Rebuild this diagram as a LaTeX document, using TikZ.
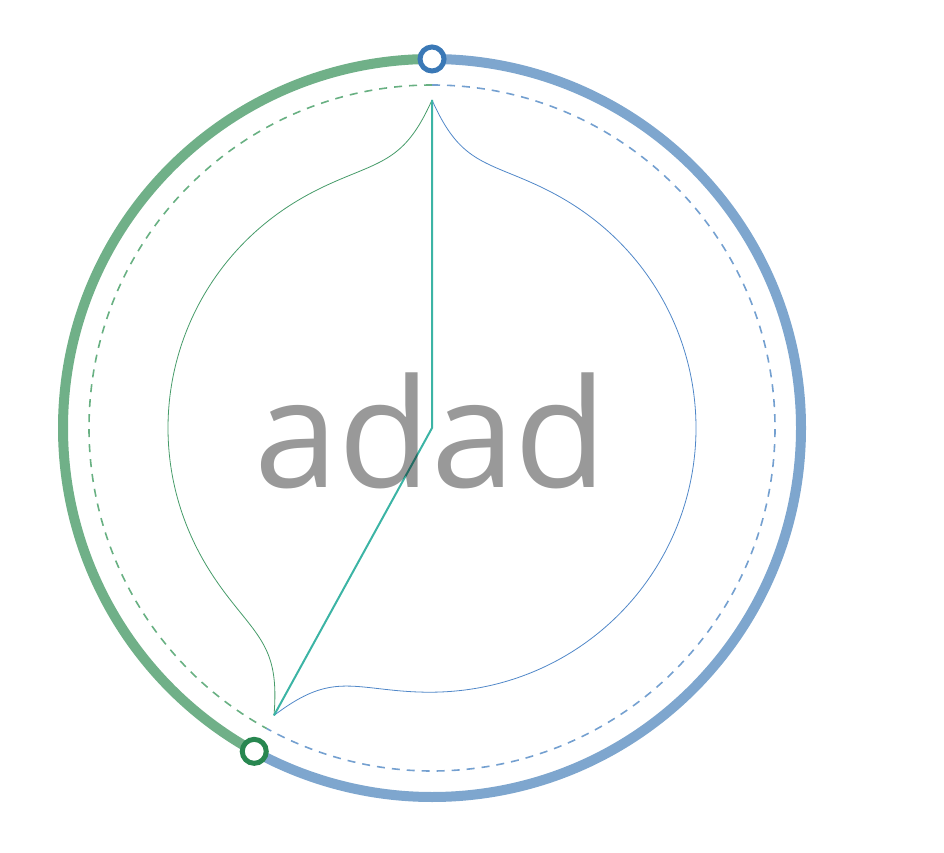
\documentclass[tikz,border=0pt]{standalone}
\usepackage{fontspec}
\setmainfont{Open Sans}
\definecolor{arcgreen}{RGB}{112,176,136}
\definecolor{arcblue}{RGB}{126,166,206}
\definecolor{dashgreen}{RGB}{104,176,130}
\definecolor{dashblue}{RGB}{116,160,208}
\definecolor{curvegreen}{RGB}{70,155,105}
\definecolor{curveblue}{RGB}{80,135,200}
\definecolor{markblue}{RGB}{58,120,182}
\definecolor{markgreen}{RGB}{40,135,80}
\definecolor{tealline}{RGB}{60,180,165}
\tikzset{
  outerarc/.style={line width=10pt, line cap=butt},
  dashring/.style={line width=1.6pt, dash pattern=on 8pt off 7pt},
  ribbon/.style={line width=0.8pt, smooth},
  marker/.style={circle, draw, fill=white, line width=5pt, minimum size=24pt, inner sep=0pt},
  spoke/.style={draw=tealline, line width=2pt},
  biglabel/.style={font=\fontsize{151}{151}\selectfont, text=black, text opacity=0.4, anchor=base, inner sep=0pt}
}
\begin{document}
\begin{tikzpicture}[x=1pt,y=1pt]
\useasboundingbox (0,0) rectangle (944,852);
\coordinate (ctr) at (432,424);
% outer arcs
\draw[outerarc, arcgreen] ([shift={(90:369)}]ctr) arc[start angle=90, end angle=241.2, radius=369];
\draw[outerarc, arcblue] ([shift={(90:369)}]ctr) arc[start angle=90, end angle=-118.8, radius=369];
% dashed ring
\draw[dashring, dashgreen] ([shift={(90:343)}]ctr) arc[start angle=90, end angle=241.2, radius=343];
\draw[dashring, dashblue] ([shift={(90:343)}]ctr) arc[start angle=90, end angle=-118.8, radius=343];
% ribbon curves
\draw[ribbon, curvegreen] plot[domain=90:241.2, samples=600, variable=\a]
  ({432 + (264+64*(exp(-(\a-90)/5)+exp(-(241.2-\a)/5)))*cos(\a)},
   {424 + (264+64*(exp(-(\a-90)/5)+exp(-(241.2-\a)/5)))*sin(\a)});
\draw[ribbon, curveblue] plot[domain=-118.8:90, samples=700, variable=\a]
  ({432 + (264+64*(exp(-(90-\a)/5)+exp(-(\a+118.8)/5)))*cos(\a)},
   {424 + (264+64*(exp(-(90-\a)/5)+exp(-(\a+118.8)/5)))*sin(\a)});
% spokes
\coordinate (tipA) at ([shift={(90:328)}]ctr);
\coordinate (tipB) at ([shift={(241.2:328)}]ctr);
\draw[spoke] (tipA) -- (ctr) -- (tipB);
% label
\node[biglabel] (lbl) at (431,364) {adad};
% markers
\node[marker, draw=markblue] (mtop) at ([shift={(90:369)}]ctr) {};
\node[marker, draw=markgreen] (mbot) at ([shift={(241.2:369)}]ctr) {};
\end{tikzpicture}
\end{document}
